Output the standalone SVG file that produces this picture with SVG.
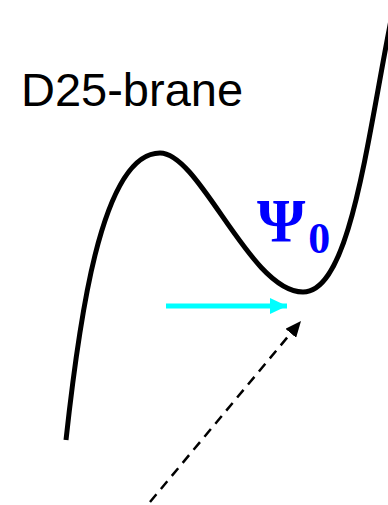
<svg xmlns="http://www.w3.org/2000/svg" width="388" height="505" viewBox="0 0 388 505">
<style>
.curve{fill:none;stroke:#000;stroke-width:5;stroke-linecap:butt}
.lbl{font-family:"Liberation Sans",Arial,sans-serif;font-size:47px;fill:#000}
.psi{font-family:"Liberation Serif","Times New Roman",serif;font-weight:bold;fill:#0000ff}
</style>
<defs>
<marker id="ahc" markerWidth="17" markerHeight="16" refX="17" refY="8" orient="auto" markerUnits="userSpaceOnUse" viewBox="0 0 17 16"><path d="M0,0L17,8L0,16z" fill="#00ffff"/></marker>
<marker id="ahk" markerWidth="16" markerHeight="14" refX="16" refY="7" orient="auto" markerUnits="userSpaceOnUse" viewBox="0 0 16 14"><path d="M0,0L16,7L0,14z" fill="#000"/></marker>
</defs>
<g id="potential">
<path class="curve" d="M66,440 C78,330 100,153 160,153 C200,153 250,292 303,292 C352,292 368,130 395,0"/>
</g>
<g id="label-d25"><text class="lbl" x="21" y="106">D25-brane</text></g>
<g id="label-psi"><text class="psi" x="257" y="241" font-size="62">Ψ<tspan font-size="44" dy="12" dx="3">0</tspan></text></g>
<g id="connectors">
<line x1="166" y1="306" x2="287" y2="306" stroke="#00ffff" stroke-width="5" marker-end="url(#ahc)"/>
<line x1="150" y1="502" x2="301" y2="321" stroke="#000" stroke-width="2.5" stroke-dasharray="10,7" marker-end="url(#ahk)"/>
</g>
</svg>
